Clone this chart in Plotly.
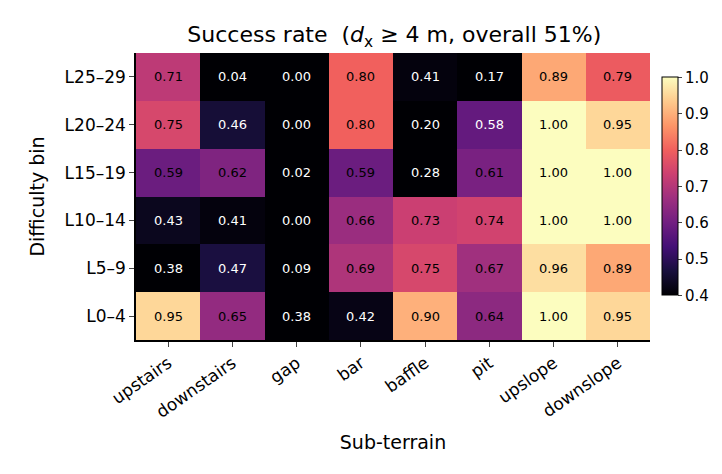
import plotly.graph_objects as go

terrains = ["upstairs", "downstairs", "gap", "bar", "baffle", "pit", "upslope", "downslope"]
bins = ["L0–4", "L5–9", "L10–14", "L15–19", "L20–24", "L25–29"]
row_L0 = [0.95, 0.65, 0.38, 0.42, 0.90, 0.64, 1.00, 0.95]
row_L5 = [0.38, 0.47, 0.09, 0.69, 0.75, 0.67, 0.96, 0.89]
row_L10 = [0.43, 0.41, 0.00, 0.66, 0.73, 0.74, 1.00, 1.00]
row_L15 = [0.59, 0.62, 0.02, 0.59, 0.28, 0.61, 1.00, 1.00]
row_L20 = [0.75, 0.46, 0.00, 0.80, 0.20, 0.58, 1.00, 0.95]
row_L25 = [0.71, 0.04, 0.00, 0.80, 0.41, 0.17, 0.89, 0.79]
z = [row_L0, row_L5, row_L10, row_L15, row_L20, row_L25]

fig = go.Figure(go.Heatmap(
    z=z, x=terrains, y=bins, colorscale="Magma", zmin=0.4, zmax=1.0,
    colorbar=dict(thickness=16, len=0.83, x=1.023, xanchor="left", xpad=0, y=0.535,
                  yanchor="middle", tickvals=[0.4, 0.5, 0.6, 0.7, 0.8, 0.9, 1.0],
                  ticktext=["0.4", "0.5", "0.6", "0.7", "0.8", "0.9", "1.0"],
                  tickfont=dict(size=15, color="black"), outlinewidth=1, outlinecolor="black",
                  ticks="outside", ticklen=4),
    hoverinfo="skip"))

anns = []
for i, b in enumerate(bins):
    for j, t in enumerate(terrains):
        v = z[i][j]
        anns.append(dict(x=t, y=b, text=f"{v:.2f}", showarrow=False,
                         font=dict(size=13, color="white" if v < 0.585 else "black")))

fig.update_layout(
    width=722, height=474, plot_bgcolor="white", paper_bgcolor="white",
    margin=dict(l=128, r=80, t=45, b=142),
    font=dict(family="DejaVu Sans", color="black"),
    title=dict(text="Success rate  (<i>d</i><sub>x</sub> ≥ 4 m, overall 51%)", x=0.535, xanchor="center",
               y=0.96, font=dict(size=22)),
    annotations=anns,
    xaxis=dict(title=dict(text="Sub-terrain", font=dict(size=19)), tickangle=-35,
               tickfont=dict(size=17), showline=True, linecolor="black", linewidth=1.5,
               ticks="outside", ticklen=5, mirror=False),
    yaxis=dict(title=dict(text="Difficulty bin", font=dict(size=19)), tickfont=dict(size=17),
               showline=True, linecolor="black", linewidth=1.5, ticks="outside", ticklen=5),
)
fig.write_html("out.html")
